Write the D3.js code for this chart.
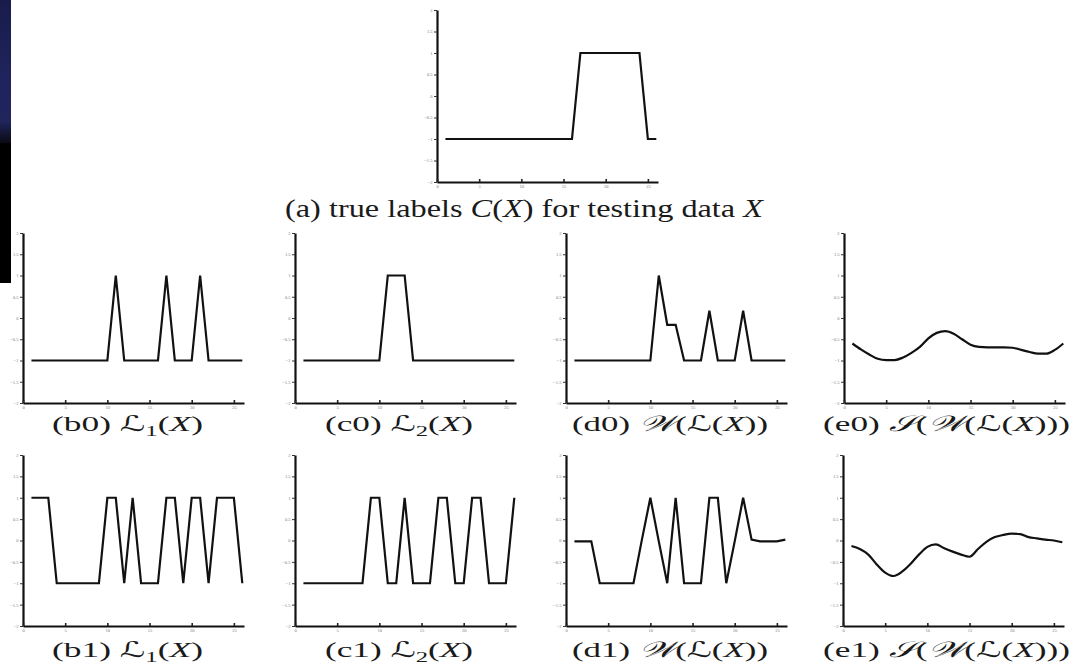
<!DOCTYPE html>
<html><head><meta charset="utf-8">
<script src="https://cdn.jsdelivr.net/npm/d3@7"></script>
<style>
html,body{margin:0;padding:0;background:#fff;}
svg{display:block;}
</style></head><body>
<svg id="chart" width="1086" height="671"></svg>
<script>
// ---------- data ----------
const xTicks = [0, 5, 10, 15, 20, 25];
const yTicks = [-2, -1.5, -1, -0.5, 0, 0.5, 1, 1.5, 2];
const sampleIndex = [1,2,3,4,5,6,7,8,9,10,11,12,13,14,15,16,17,18,19,20,21,22,23,24,25,26];

const trueLabels = [-1,-1,-1,-1,-1,-1,-1,-1,-1,-1,-1,-1,-1,-1,-1,-1, 1, 1, 1, 1, 1, 1, 1, 1,-1,-1];
const b0Values   = [-1,-1,-1,-1,-1,-1,-1,-1,-1,-1, 1,-1,-1,-1,-1,-1, 1,-1,-1,-1, 1,-1,-1,-1,-1,-1];
const c0Values   = [-1,-1,-1,-1,-1,-1,-1,-1,-1,-1, 1, 1, 1,-1,-1,-1,-1,-1,-1,-1,-1,-1,-1,-1,-1,-1];
const d0Values   = [-1,-1,-1,-1,-1,-1,-1,-1,-1,-1, 1,-0.16,-0.16,-1,-1,-1, 0.17,-1,-1,-1, 0.17,-1,-1,-1,-1,-1];
const e0Values   = [-0.60,-0.74,-0.86,-0.96,-0.99,-0.99,-0.93,-0.82,-0.68,-0.48,-0.35,-0.31,-0.37,-0.50,-0.63,-0.68,-0.69,-0.69,-0.69,-0.70,-0.75,-0.80,-0.84,-0.84,-0.75,-0.60];
const b1Values   = [ 1, 1, 1,-1,-1,-1,-1,-1,-1, 1, 1,-1, 1,-1,-1,-1, 1, 1,-1, 1, 1,-1, 1, 1, 1,-1];
const c1Values   = [-1,-1,-1,-1,-1,-1,-1,-1, 1, 1,-1,-1, 1,-1,-1,-1, 1, 1,-1,-1, 1, 1,-1,-1,-1, 1];
const d1Values   = [-0.02,-0.02,-0.02,-1,-1,-1,-1,-1, 0.02, 1,-0.02,-1, 1,-1,-1,-1, 1, 1,-1,-0.02, 1, 0.02,-0.02,-0.02,-0.02, 0.02];
const e1Values   = [-0.13,-0.20,-0.33,-0.56,-0.75,-0.83,-0.73,-0.55,-0.33,-0.15,-0.09,-0.18,-0.26,-0.33,-0.38,-0.20,-0.03, 0.08, 0.13, 0.16, 0.15, 0.08, 0.05, 0.02, 0.00,-0.04];

// captions: [text, style]  style: n=normal, i=italic, m=script math, s=subscript
const capA  = [["(a) true labels ","n"],["C","i"],["(","n"],["X","i"],[")  for testing data ","n"],["X","i"]];
const capB0 = [["(b0) ","n"],["\u2112","m"],["1","s"],["(","n"],["X","i"],[")","n"]];
const capC0 = [["(c0) ","n"],["\u2112","m"],["2","s"],["(","n"],["X","i"],[")","n"]];
const capD0 = [["(d0) ","n"],["\uD835\uDCB2","m"],["(","n"],["\u2112","m"],["(","n"],["X","i"],["))","n"]];
const capE0 = [["(e0) ","n"],["\uD835\uDCAE","m"],["(","n"],["\uD835\uDCB2","m"],["(","n"],["\u2112","m"],["(","n"],["X","i"],[")))","n"]];
const capB1 = [["(b1) ","n"],["\u2112","m"],["1","s"],["(","n"],["X","i"],[")","n"]];
const capC1 = [["(c1) ","n"],["\u2112","m"],["2","s"],["(","n"],["X","i"],[")","n"]];
const capD1 = [["(d1) ","n"],["\uD835\uDCB2","m"],["(","n"],["\u2112","m"],["(","n"],["X","i"],["))","n"]];
const capE1 = [["(e1) ","n"],["\uD835\uDCAE","m"],["(","n"],["\uD835\uDCB2","m"],["(","n"],["\u2112","m"],["(","n"],["X","i"],[")))","n"]];

// ---------- layout ----------
const W = 221;
const panels = [
  {vals: trueLabels, cap: capA,  x0: 437, top: 10,  bottom: 182, capX0: 285, capX1: 763,  capY: 217, capSize: 25, smooth: false},
  {vals: b0Values,   cap: capB0, x0: 23,  top: 233, bottom: 403, capX0: 52,  capX1: 203,  capY: 431, capSize: 22, smooth: false},
  {vals: c0Values,   cap: capC0, x0: 295, top: 233, bottom: 403, capX0: 325, capX1: 473,  capY: 431, capSize: 22, smooth: false},
  {vals: d0Values,   cap: capD0, x0: 566, top: 233, bottom: 403, capX0: 572, capX1: 768,  capY: 431, capSize: 22, smooth: false},
  {vals: e0Values,   cap: capE0, x0: 844, top: 233, bottom: 403, capX0: 823, capX1: 1070, capY: 431, capSize: 22, smooth: true},
  {vals: b1Values,   cap: capB1, x0: 23,  top: 455, bottom: 626, capX0: 52,  capX1: 203,  capY: 657, capSize: 22, smooth: false},
  {vals: c1Values,   cap: capC1, x0: 295, top: 455, bottom: 626, capX0: 325, capX1: 473,  capY: 657, capSize: 22, smooth: false},
  {vals: d1Values,   cap: capD1, x0: 566, top: 455, bottom: 626, capX0: 572, capX1: 768,  capY: 657, capSize: 22, smooth: false},
  {vals: e1Values,   cap: capE1, x0: 843, top: 455, bottom: 626, capX0: 823, capX1: 1070, capY: 657, capSize: 22, smooth: true}
];

const svg = d3.select("#chart");

// slide background strip on the left
const defs = svg.append("defs");
const grad = defs.append("linearGradient").attr("id","navy").attr("x1",0).attr("y1",0).attr("x2",0).attr("y2",1);
grad.append("stop").attr("offset","0%").attr("stop-color","#191c4b");
grad.append("stop").attr("offset","60%").attr("stop-color","#1f245d");
grad.append("stop").attr("offset","85%").attr("stop-color","#20255c");
grad.append("stop").attr("offset","100%").attr("stop-color","#0a0a14");
svg.append("rect").attr("x",0).attr("y",0).attr("width",11).attr("height",143).attr("fill","url(#navy)");
svg.append("rect").attr("x",0).attr("y",143).attr("width",11).attr("height",140).attr("fill","#000");

const serif = "'Liberation Serif','Times New Roman',serif";

panels.forEach(p => {
  const x = d3.scaleLinear().domain([0, 26.2]).range([p.x0, p.x0 + W]);
  const y = d3.scaleLinear().domain([-2, 2]).range([p.bottom, p.top]);
  const g = svg.append("g");

  // y axis
  const ya = g.append("g").attr("transform", `translate(${p.x0},0)`)
    .call(d3.axisLeft(y).tickValues(yTicks).tickSizeInner(3).tickSizeOuter(0).tickPadding(1.5).tickFormat(d3.format("")));
  ya.select(".domain").attr("stroke","#111").attr("stroke-width",2.2);
  ya.selectAll(".tick line").attr("stroke","#333").attr("stroke-width",1);
  ya.selectAll(".tick text").attr("font-size",4.5).attr("fill","#777").attr("font-family",serif);

  // x axis
  const xa = g.append("g").attr("transform", `translate(0,${p.bottom})`)
    .call(d3.axisBottom(x).tickValues(xTicks).tickSizeInner(-3).tickSizeOuter(0).tickPadding(3).tickFormat(d3.format("")));
  xa.select(".domain").attr("stroke","#111").attr("stroke-width",2.2);
  xa.selectAll(".tick line").attr("stroke","#222").attr("stroke-width",1.6);
  xa.selectAll(".tick text").attr("font-size",4.5).attr("fill","#777").attr("font-family",serif);

  // data line
  const line = d3.line()
    .x((d, i) => x(sampleIndex[i]))
    .y(d => y(d))
    .curve(p.smooth ? d3.curveMonotoneX : d3.curveLinear);
  g.append("path").datum(p.vals)
    .attr("d", line)
    .attr("fill","none")
    .attr("stroke","#111")
    .attr("stroke-width",2.2)
    .attr("stroke-linejoin","miter")
    .attr("stroke-miterlimit",3);

  // caption
  const t = g.append("text")
    .attr("x", p.capX0).attr("y", p.capY)
    .attr("font-family", serif).attr("font-size", p.capSize).attr("fill","#1a1a1a")
    .attr("textLength", p.capX1 - p.capX0).attr("lengthAdjust","spacingAndGlyphs");
  p.cap.forEach(([txt, st], i) => {
    const ts = t.append("tspan").text(txt);
    if (st === "i") ts.attr("font-style","italic");
    if (st === "m") ts.attr("font-family","'DejaVu Serif','DejaVu Sans',serif").attr("font-style","italic");
    if (st === "s") ts.attr("font-size", p.capSize * 0.7).attr("dy", 5);
    else if (i > 0 && p.cap[i - 1][1] === "s") ts.attr("dy", -5);
  });
});
</script>
</body></html>
